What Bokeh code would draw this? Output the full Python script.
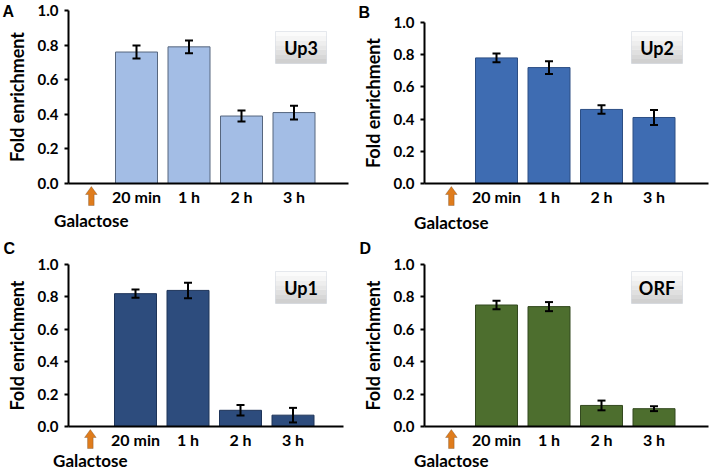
from bokeh.plotting import figure
from bokeh.models import (ColumnDataSource, Whisker, TeeHead, FixedTicker, Label,
                          BoxAnnotation, PolyAnnotation, Range1d)
from bokeh.layouts import gridplot
from bokeh.embed import file_html
from bokeh.resources import INLINE

# ---------------- data ----------------
categories = ["20 min", "1 h", "2 h", "3 h"]
positions = [1, 2, 3, 4]
galactose_position = 0.14

up3_values = [0.76, 0.79, 0.39, 0.41]
up3_errors = [0.038, 0.037, 0.032, 0.040]
up2_values = [0.78, 0.72, 0.46, 0.41]
up2_errors = [0.027, 0.040, 0.026, 0.046]
up1_values = [0.82, 0.84, 0.10, 0.07]
up1_errors = [0.026, 0.048, 0.032, 0.045]
orf_values = [0.75, 0.74, 0.13, 0.11]
orf_errors = [0.026, 0.028, 0.030, 0.015]

y_ticks = [0.0, 0.2, 0.4, 0.6, 0.8, 1.0]
y_tick_labels = ["0.0", "0.2", "0.4", "0.6", "0.8", "1.0"]
panel_letters = ["A", "B", "C", "D"]
region_names = ["Up3", "Up2", "Up1", "ORF"]

FONT = "Lato"
SLOT = 52.5  # px per category slot


def make_panel(letter, name, values, errors, fill, edge, g):
    W, H = g["w"], g["h"]
    ppu = g["y0"] - g["y1"]                      # px per y unit
    xl = 1 - g["c1"] / SLOT                      # data x at left edge
    xr = xl + W / SLOT
    yt = 1 + g["y1"] / ppu
    yb = -(H - g["y0"]) / ppu
    x_axis = xl + g["ax"] / SLOT
    x_end = xl + g["xe"] / SLOT

    p = figure(width=W, height=H, output_backend="svg", toolbar_location=None,
               x_range=Range1d(xl, xr), y_range=Range1d(yb, yt),
               min_border=0, min_border_left=0, min_border_right=0,
               min_border_top=0, min_border_bottom=0)
    p.outline_line_color = None
    p.xgrid.visible = False
    p.ygrid.visible = False
    p.background_fill_color = "white"
    p.border_fill_color = "white"

    src = ColumnDataSource(dict(
        x=positions, top=values,
        upper=[v + e for v, e in zip(values, errors)],
        lower=[v - e for v, e in zip(values, errors)]))
    p.vbar(x="x", top="top", width=0.8, bottom=0, source=src,
           fill_color=fill, line_color=edge, line_width=1)
    p.add_layout(Whisker(source=src, base="x", upper="upper", lower="lower",
                         dimension="height", line_color="black", line_width=2,
                         level="overlay",
                         upper_head=TeeHead(size=8, line_width=2, line_color="black"),
                         lower_head=TeeHead(size=8, line_width=2, line_color="black")))

    # y axis
    ya = p.yaxis[0]
    ya.fixed_location = x_axis
    ya.bounds = (0, 1)
    ya.ticker = FixedTicker(ticks=y_ticks)
    ya.major_label_overrides = {t: l for t, l in zip(y_ticks, y_tick_labels)}
    ya.minor_tick_line_color = None
    ya.major_tick_in = 0
    ya.major_tick_out = 4
    ya.major_tick_line_width = 2
    ya.axis_line_width = 2
    ya.axis_line_color = "black"
    ya.major_label_text_font = FONT
    ya.major_label_text_font_style = "bold"
    ya.major_label_text_font_size = "15px"
    ya.major_label_text_color = "black"
    ya.major_label_standoff = 6
    ya.axis_label = "Fold enrichment"
    ya.axis_label_text_font = FONT
    ya.axis_label_text_font_style = "bold"
    ya.axis_label_text_font_size = "18px"
    ya.axis_label_text_color = "black"
    ya.axis_label_standoff = 7

    # x axis
    xa = p.xaxis[0]
    xa.fixed_location = 0
    xa.bounds = (x_axis, x_end)
    xa.ticker = FixedTicker(ticks=positions)
    xa.major_label_overrides = {pos: c for pos, c in zip(positions, categories)}
    xa.major_tick_line_color = None
    xa.major_tick_in = 0
    xa.major_tick_out = 0
    xa.minor_tick_line_color = None
    xa.minor_tick_in = 0
    xa.minor_tick_out = 0
    xa.axis_line_width = 2
    xa.axis_line_color = "black"
    xa.major_label_text_font = FONT
    xa.major_label_text_font_style = "bold"
    xa.major_label_text_font_size = "16px"
    xa.major_label_text_color = "black"
    xa.major_label_standoff = 3

    # galactose arrow and label
    u = 1.0 / ppu
    sw = 2.8 / SLOT
    hw = 5.8 / SLOT
    gx = galactose_position
    ytop, yneck, ybot = -3 * u, -11 * u, -22 * u
    p.add_layout(PolyAnnotation(
        xs=[gx, gx + hw, gx + sw, gx + sw, gx - sw, gx - sw, gx - hw],
        ys=[ytop, yneck, yneck, ybot, ybot, yneck, yneck],
        fill_color="#DF7C1C", fill_alpha=1, line_color="#5A3D22", line_width=1))
    p.add_layout(Label(x=gx, y=-g["gal"] * u, text="Galactose", text_align="center",
                       text_baseline="middle", text_font=FONT, text_font_style="bold",
                       text_font_size="17px", text_color="black"))

    # panel letter
    p.add_layout(Label(x=xl + g["lx"] / SLOT, y=1 + (g["y1"] - g["ly"]) * u, text=letter,
                       text_align="left", text_baseline="middle", text_font="Liberation Sans",
                       text_font_style="bold", text_font_size="16px", text_color="black"))

    # name box with gradient
    bx0 = xl + g["bx"] / SLOT
    bx1 = bx0 + 51 / SLOT
    by1 = 1 + (g["y1"] - g["by"]) * u
    by0 = by1 - 32 * u
    shades = ["#FBFBFB", "#F5F5F5", "#EEEEEE", "#E7E7E7", "#E0E0E0", "#D8D8D8", "#D0D0D0"]
    n = len(shades)
    for i, c in enumerate(shades):
        p.add_layout(BoxAnnotation(left=bx0, right=bx1,
                                   top=by1 - (by1 - by0) * i / n,
                                   bottom=by1 - (by1 - by0) * (i + 1) / n,
                                   fill_color=c, fill_alpha=1, line_color=None))
    p.add_layout(BoxAnnotation(left=bx0, right=bx1, top=by1, bottom=by0,
                               fill_alpha=0, line_color="#AEBACB", line_width=1))
    p.add_layout(Label(x=(bx0 + bx1) / 2, y=(by0 + by1) / 2, text=name,
                       text_align="center", text_baseline="middle", text_font=FONT,
                       text_font_style="bold", text_font_size="18px", text_color="black"))
    return p


# pixel layout of each panel (within its own figure)
geoms = [
    dict(w=356, h=236, ax=68, xe=348, y1=10, y0=183, c1=136, gal=37, lx=2, ly=11, bx=275, by=31),
    dict(w=356, h=236, ax=68, xe=352, y1=22, y0=183, c1=140, gal=39, lx=2, ly=12, bx=275, by=31),
    dict(w=356, h=235, ax=68, xe=343, y1=28, y0=190, c1=135, gal=34, lx=3, ly=12, bx=275, by=35),
    dict(w=356, h=235, ax=68, xe=352, y1=28, y0=190, c1=140, gal=34, lx=3, ly=12, bx=275, by=35),
]
values = [up3_values, up2_values, up1_values, orf_values]
errors = [up3_errors, up2_errors, up1_errors, orf_errors]
fills = ["#A3BDE5", "#3E6CB2", "#2D4C7D", "#4D6E2E"]
edges = ["#56667E", "#2C4E84", "#1E3459", "#33491F"]

panels = [make_panel(panel_letters[i], region_names[i], values[i], errors[i],
                     fills[i], edges[i], geoms[i]) for i in range(4)]

grid = gridplot([[panels[0], panels[1]], [panels[2], panels[3]]], toolbar_location=None)

open("out.html", "w").write(file_html(grid, INLINE))
